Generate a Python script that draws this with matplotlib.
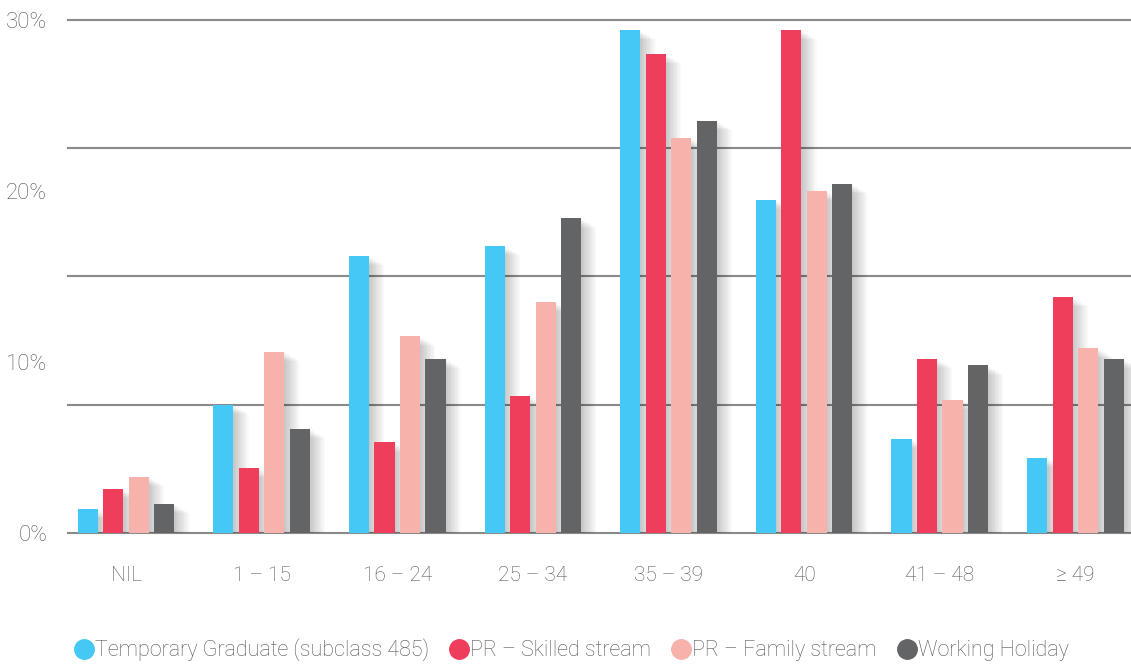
import matplotlib.pyplot as plt
import numpy as np
from matplotlib import patheffects
from matplotlib.lines import Line2D

plt.rcParams['font.family'] = ['Roboto', 'DejaVu Sans']
plt.rcParams['font.weight'] = 'light'

categories = ['NIL', '1 – 15', '16 – 24', '25 – 34', '35 – 39', '40', '41 – 48', '≥ 49']
series_names = ['Temporary Graduate (subclass 485)', 'PR – Skilled stream',
                'PR – Family stream', 'Working Holiday']
temp_graduate = [1.4, 7.5, 16.2, 16.8, 29.4, 19.5, 5.5, 4.4]
pr_skilled = [2.6, 3.8, 5.3, 8.0, 28.0, 29.4, 10.2, 13.8]
pr_family = [3.3, 10.6, 11.5, 13.5, 23.1, 20.0, 7.8, 10.8]
working_holiday = [1.7, 6.1, 10.2, 18.4, 24.1, 20.4, 9.8, 10.2]
y_ticks = [0, 10, 20, 30]
grid_levels = [0, 7.5, 15, 22.5, 30]

colors = ['#45C8F5', '#EF3E5B', '#F7B2AB', '#636466']
text_color = '#555555'


def main():
    fig = plt.figure(figsize=(11.31, 6.64), dpi=100)
    axe = fig.add_axes([0.0601, 0.1973, 0.9399, 0.7726])

    x = np.arange(len(categories))
    step = 0.188
    width = 0.148
    # soft drop shadow built from a stack of faint offset copies
    shadow = [patheffects.SimplePatchShadow(offset=(o, -o * 0.6), shadow_rgbFace='black', alpha=0.018)
              for o in np.arange(1, 12)] + [patheffects.Normal()]
    all_series = [temp_graduate, pr_skilled, pr_family, working_holiday]
    for i, (values, color) in enumerate(zip(all_series, colors)):
        bars = axe.bar(x + (i - 1.5) * step, values, width, color=color, zorder=3)
        for bar in bars:
            bar.set_path_effects(shadow)

    for level in grid_levels:
        axe.axhline(level, color='#8a8a8a', linewidth=1.5, zorder=1, clip_on=False)

    axe.set_xlim(-0.428, 7.41)
    axe.set_ylim(0, 30)
    axe.set_yticks(y_ticks)
    axe.set_yticklabels([f'{v}%' for v in y_ticks])
    axe.tick_params(axis='y', length=0, pad=15, labelsize=16, labelcolor=text_color)
    axe.set_xticks(x)
    axe.set_xticklabels(categories)
    axe.tick_params(axis='x', length=0, pad=24, labelsize=15, labelcolor=text_color)
    for spine in axe.spines.values():
        spine.set_visible(False)

    handles = [Line2D([], [], marker='o', linestyle='', markersize=14, color=c) for c in colors]
    fig.legend(handles, series_names, loc='lower left', bbox_to_anchor=(0.048, -0.025), ncol=4,
               frameon=False, fontsize=15.5, labelcolor=text_color, handletextpad=0.0,
               columnspacing=0.9, handlelength=1.0)

    fig.savefig('out.png', dpi=100)


if __name__ == '__main__':
    main()
